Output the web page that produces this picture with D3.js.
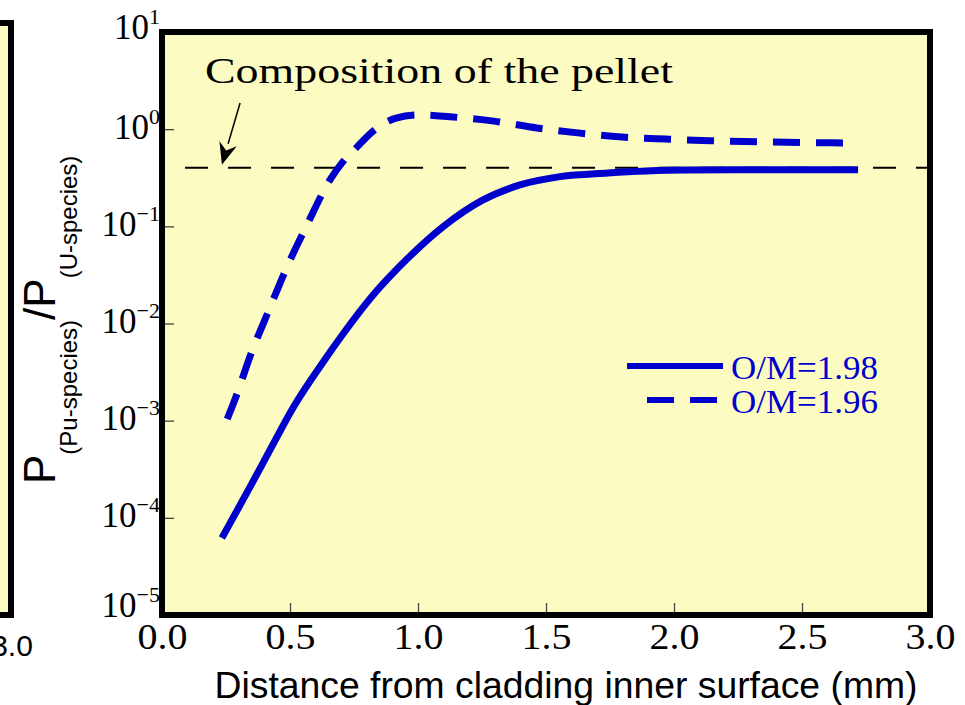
<!DOCTYPE html>
<html>
<head>
<meta charset="utf-8">
<script src="https://cdn.jsdelivr.net/npm/d3@7"></script>
<style>
  html, body { margin: 0; padding: 0; background: #ffffff; }
  svg { display: block; }
</style>
</head>
<body>
<svg id="chart" width="965" height="705"></svg>
<script>
// ---- data ----
const xTicks = [0, 0.5, 1.0, 1.5, 2.0, 2.5, 3.0];
const xTickLabels = ["0.0", "0.5", "1.0", "1.5", "2.0", "2.5", "3.0"];
const yTicks = [1e-5, 1e-4, 1e-3, 1e-2, 1e-1, 1e0, 1e1];
const yTickExponents = ["\u22125", "\u22124", "\u22123", "\u22122", "\u22121", "0", "1"];

const seriesNames = ["O/M=1.98", "O/M=1.96"];
const solidX = [0.234, 0.344, 0.422, 0.512, 0.629, 0.707, 0.824, 0.957, 1.098, 1.254, 1.398, 1.555, 1.742, 1.891, 2.043, 2.336, 2.719];
const solidY = [6.2e-5, 2.08e-4, 5.0e-4, 1.36e-3, 4.0e-3, 7.8e-3, 0.0195, 0.046, 0.099, 0.187, 0.267, 0.325, 0.354, 0.371, 0.38, 0.383, 0.383];
const dashedX = [0.237, 0.289, 0.348, 0.418, 0.488, 0.566, 0.656, 0.703, 0.75, 0.84, 0.914, 1.004, 1.125, 1.297, 1.465, 1.633, 1.797, 1.969, 2.141, 2.336, 2.719];
const dashedY = [8.0e-4, 1.76e-3, 4.9e-3, 0.0138, 0.038, 0.103, 0.30, 0.45, 0.61, 1.03, 1.30, 1.40, 1.34, 1.21, 1.03, 0.91, 0.83, 0.79, 0.76, 0.74, 0.72];

const pelletComposition = 0.40;
const pelletLineX = [0.09, 3.0];
const annotationText = "Composition of the pellet";
const arrowFrom = [0.305, 1.86];
const arrowTo = [0.234, 0.43];

// ---- layout ----
const svg = d3.select("#chart");
const L = 162, R = 930, T = 32, B = 615;
const blue = "#0000cc";
const yellow = "#fcfcc2";

const x = d3.scaleLinear().domain([0, 3]).range([L, R]);
const y = d3.scaleLog().domain([1e-5, 10]).range([B, T]);

// left cut-off neighbouring panel
svg.append("rect").attr("x", -30).attr("y", 23).attr("width", 41).attr("height", 592)
  .attr("fill", yellow).attr("stroke", "#000").attr("stroke-width", 6);
svg.append("text").attr("x", 12).attr("y", 656).attr("text-anchor", "middle")
  .attr("font-family", "Liberation Sans, Arial, sans-serif").attr("font-size", 30)
  .attr("fill", "#000").text("3.0");

// plot background
svg.append("rect").attr("x", L).attr("y", T).attr("width", R - L).attr("height", B - T)
  .attr("fill", yellow);

// clip
svg.append("defs").append("clipPath").attr("id", "clip")
  .append("rect").attr("x", L + 3).attr("y", T + 3).attr("width", R - L - 6).attr("height", B - T - 6);

// axes (inward ticks)
const xAxis = d3.axisBottom(x).tickValues(xTicks).tickSizeInner(-12).tickSizeOuter(0)
  .tickPadding(20).tickFormat((d, i) => xTickLabels[i]);
const gx = svg.append("g").attr("transform", `translate(0,${B})`).call(xAxis);
gx.select(".domain").remove();
gx.selectAll(".tick line").attr("stroke", "#444").attr("stroke-width", 1.3);
gx.selectAll(".tick text")
  .attr("font-family", "Liberation Serif, Times New Roman, serif")
  .attr("font-size", 35).attr("fill", "#000")
  .attr("textLength", 50).attr("lengthAdjust", "spacingAndGlyphs")
  .attr("y", 0).attr("dy", 34);

const yAxis = d3.axisLeft(y).tickValues(yTicks).tickSizeInner(-12).tickSizeOuter(0)
  .tickPadding(5).tickFormat("");
const gy = svg.append("g").attr("transform", `translate(${L},0)`).call(yAxis);
gy.select(".domain").remove();
gy.selectAll(".tick line").attr("stroke", "#444").attr("stroke-width", 1.3);
gy.selectAll(".tick text").each(function (d, i) {
  const t = d3.select(this);
  t.attr("x", -2).attr("text-anchor", "end")
    .attr("font-family", "Liberation Serif, Times New Roman, serif")
    .attr("font-size", 35).attr("fill", "#000").attr("dy", i === 0 ? 1 : (i === yTicks.length - 1 ? 6 : 9));
  t.append("tspan").text("10");
  t.append("tspan").attr("dy", -15).attr("font-size", 22).text(yTickExponents[i]);
});

// pellet composition reference line
svg.append("line")
  .attr("x1", x(pelletLineX[0])).attr("x2", x(pelletLineX[1]))
  .attr("y1", y(pelletComposition)).attr("y2", y(pelletComposition))
  .attr("stroke", "#000").attr("stroke-width", 2).attr("stroke-dasharray", "23,20")
  .attr("clip-path", "url(#clip)");

// series
const line = d3.line().x(d => x(d[0])).y(d => y(d[1])).curve(d3.curveMonotoneX);
const solidData = solidX.map((v, i) => [v, solidY[i]]);
const dashedData = dashedX.map((v, i) => [v, dashedY[i]]);

svg.append("path").datum(solidData).attr("d", line)
  .attr("fill", "none").attr("stroke", blue).attr("stroke-width", 7)
  .attr("clip-path", "url(#clip)");
svg.append("path").datum(dashedData).attr("d", line)
  .attr("fill", "none").attr("stroke", blue).attr("stroke-width", 7)
  .attr("stroke-dasharray", "27,16").attr("stroke-dashoffset", -12)
  .attr("clip-path", "url(#clip)");

// annotation + arrow
svg.append("text").attr("x", 205).attr("y", 83)
  .attr("font-family", "Liberation Serif, Times New Roman, serif").attr("font-size", 35)
  .attr("textLength", 468).attr("lengthAdjust", "spacingAndGlyphs")
  .attr("fill", "#000").text(annotationText);

const ax1 = x(arrowFrom[0]), ay1 = y(arrowFrom[1]);
const ax2 = x(arrowTo[0]), ay2 = y(arrowTo[1]);
const ang = Math.atan2(ay2 - ay1, ax2 - ax1);
const headLen = 22, headW = 9;
const bx = ax2 - headLen * Math.cos(ang), by = ay2 - headLen * Math.sin(ang);
svg.append("line").attr("x1", ax1).attr("y1", ay1).attr("x2", bx).attr("y2", by)
  .attr("stroke", "#000").attr("stroke-width", 1.5);
const px = -Math.sin(ang), py = Math.cos(ang);
const notch = 7;
const nx = ax2 - (headLen - notch) * Math.cos(ang), ny = ay2 - (headLen - notch) * Math.sin(ang);
svg.append("path")
  .attr("d", `M${ax2},${ay2} L${bx + px * headW},${by + py * headW} L${nx},${ny} L${bx - px * headW},${by - py * headW} Z`)
  .attr("fill", "#000");

// legend
const legend = svg.append("g");
const legY = [366, 400];
legend.append("line").attr("x1", 627).attr("x2", 723).attr("y1", legY[0]).attr("y2", legY[0])
  .attr("stroke", blue).attr("stroke-width", 6);
legend.append("line").attr("x1", 647).attr("x2", 718).attr("y1", legY[1]).attr("y2", legY[1])
  .attr("stroke", blue).attr("stroke-width", 6).attr("stroke-dasharray", "27,16");
seriesNames.forEach((s, i) => {
  legend.append("text").attr("x", 731).attr("y", legY[i] + 13)
    .attr("font-family", "Liberation Serif, Times New Roman, serif").attr("font-size", 34)
    .attr("textLength", 147).attr("lengthAdjust", "spacingAndGlyphs")
    .attr("fill", blue).text(s);
});

// frame
svg.append("rect").attr("x", L).attr("y", T).attr("width", R - L).attr("height", B - T)
  .attr("fill", "none").attr("stroke", "#000").attr("stroke-width", 6);

// axis titles
svg.append("text").attr("x", 566).attr("y", 698).attr("text-anchor", "middle")
  .attr("font-family", "Liberation Sans, Arial, sans-serif").attr("font-size", 37)
  .attr("textLength", 703).attr("lengthAdjust", "spacingAndGlyphs")
  .attr("fill", "#000").text("Distance from cladding inner surface (mm)");

const yt = svg.append("text").attr("transform", "translate(55,484) rotate(-90)")
  .attr("font-family", "Liberation Sans, Arial, sans-serif").attr("fill", "#000");
yt.append("tspan").attr("font-size", 44).text("P");
yt.append("tspan").attr("font-size", 24).attr("dy", 22).text("(Pu-species)");
yt.append("tspan").attr("font-size", 44).attr("dy", -22).text("/P");
yt.append("tspan").attr("font-size", 24).attr("dy", 22).text("(U-species)");
</script>
</body>
</html>
